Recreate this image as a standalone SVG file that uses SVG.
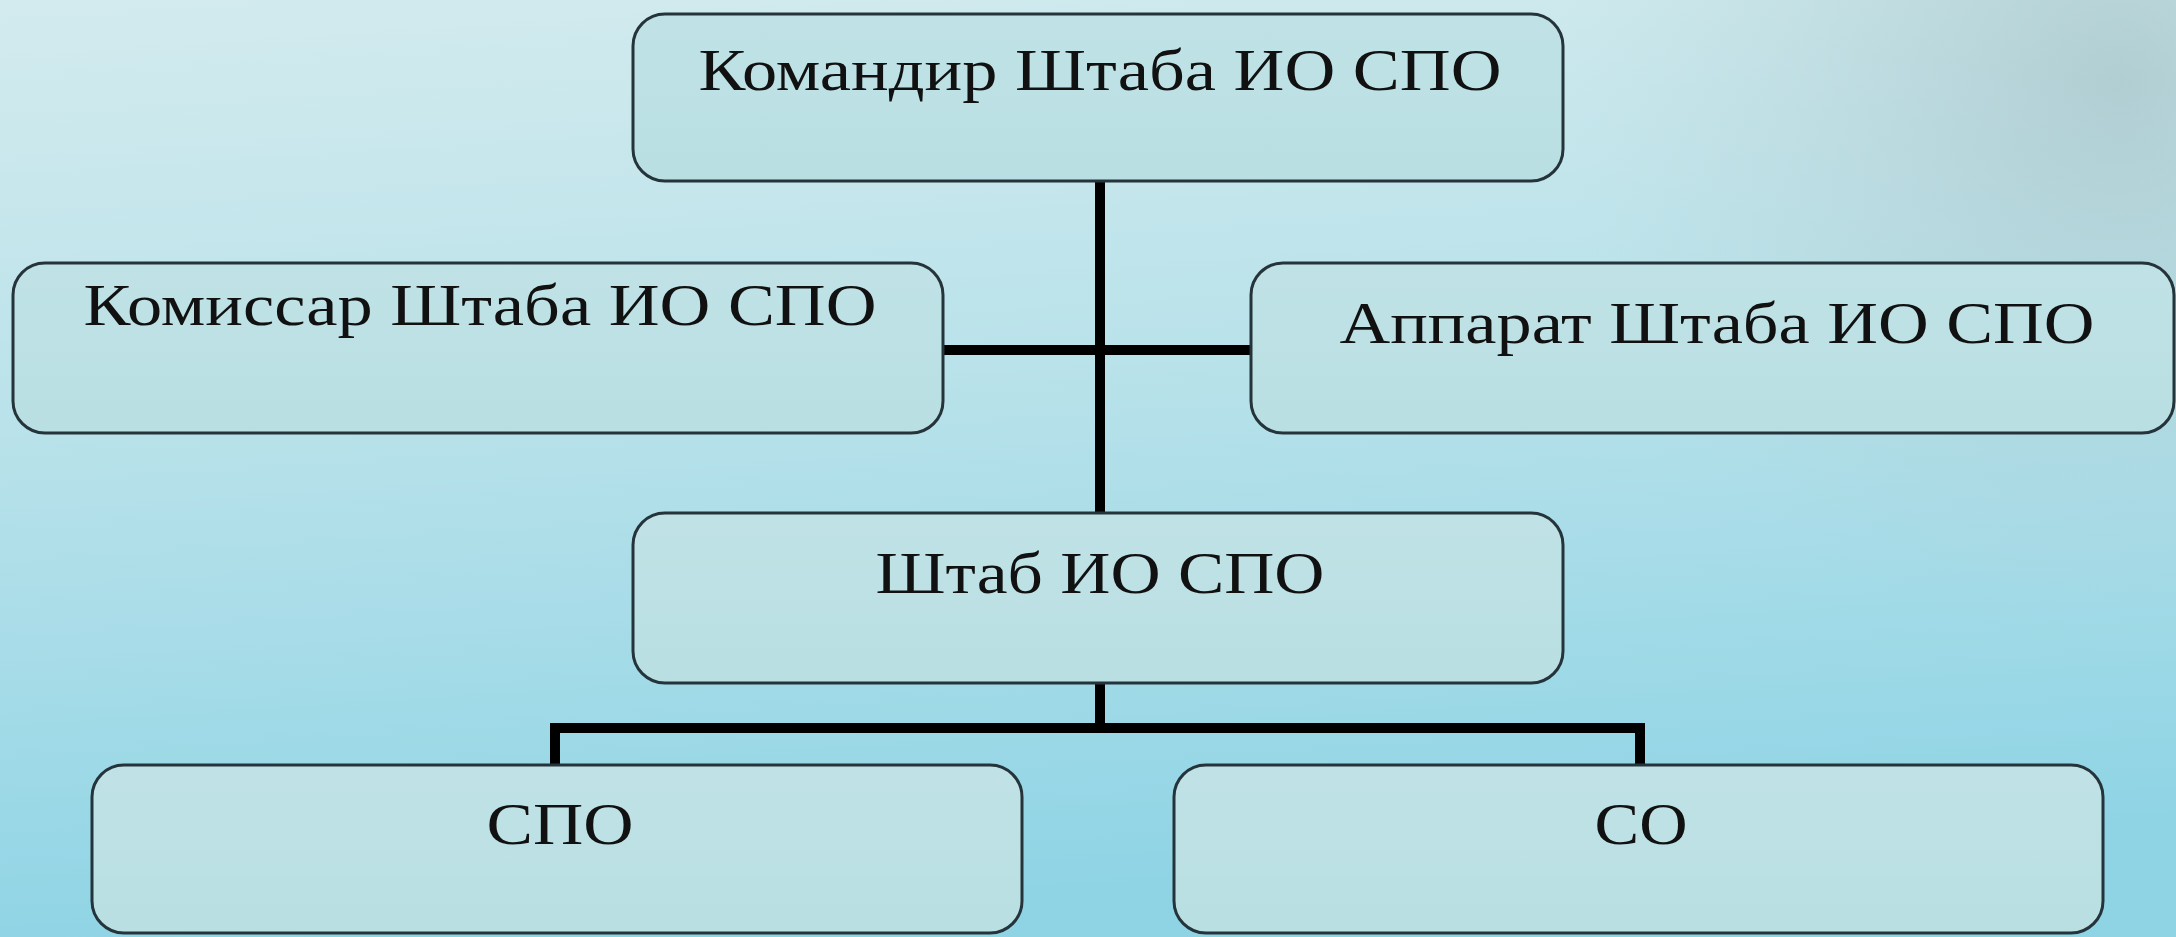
<svg xmlns="http://www.w3.org/2000/svg" width="2176" height="937" viewBox="0 0 2176 937">
<defs>
<linearGradient id="bg" x1="0" y1="0" x2="0.15" y2="1">
<stop offset="0" stop-color="#d3ebee"/>
<stop offset="0.45" stop-color="#b9e2ea"/>
<stop offset="1" stop-color="#8fd4e5"/>
</linearGradient>
<radialGradient id="shade" cx="2120" cy="80" r="560" gradientUnits="userSpaceOnUse">
<stop offset="0" stop-color="#a3bec2" stop-opacity="0.6"/>
<stop offset="1" stop-color="#b5cfd3" stop-opacity="0"/>
</radialGradient>
<linearGradient id="box" x1="0" y1="0" x2="0" y2="1">
<stop offset="0" stop-color="#c0e2e6"/>
<stop offset="1" stop-color="#b9dfe2"/>
</linearGradient>
</defs>
<style>
.node rect{fill:url(#box);stroke:#25343a;stroke-width:3}
.node text{font-family:"Liberation Serif","Times New Roman",serif;font-size:60px;fill:#111;text-anchor:middle}
.conn{stroke:#000;stroke-width:10;fill:none;stroke-linecap:butt}
</style>
<rect x="0" y="0" width="2176" height="937" fill="url(#bg)"/>
<rect x="0" y="0" width="2176" height="937" fill="url(#shade)"/>
<g id="connectors">
<path class="conn" d="M1100 180 V513"/>
<path class="conn" d="M943 350 H1251"/>
<path class="conn" d="M1100 683 V728"/>
<path class="conn" d="M555 765 V728 H1640 V765"/>
</g>
<g id="node-commander" class="node">
<rect x="633" y="14" width="930" height="167" rx="32"/>
<text x="1100" y="90" textLength="803" lengthAdjust="spacingAndGlyphs">Командир Штаба ИО СПО</text>
</g>
<g id="node-commissar" class="node">
<rect x="13" y="263" width="930" height="170" rx="32"/>
<text x="480" y="325" textLength="793" lengthAdjust="spacingAndGlyphs">Комиссар Штаба ИО СПО</text>
</g>
<g id="node-apparat" class="node">
<rect x="1251" y="263" width="923" height="170" rx="32"/>
<text x="1717" y="343" textLength="755" lengthAdjust="spacingAndGlyphs">Аппарат Штаба ИО СПО</text>
</g>
<g id="node-shtab" class="node">
<rect x="633" y="513" width="930" height="170" rx="32"/>
<text x="1100" y="593" textLength="449" lengthAdjust="spacingAndGlyphs">Штаб ИО СПО</text>
</g>
<g id="node-spo" class="node">
<rect x="92" y="765" width="930" height="168" rx="32"/>
<text x="560" y="844" textLength="147" lengthAdjust="spacingAndGlyphs">СПО</text>
</g>
<g id="node-so" class="node">
<rect x="1174" y="765" width="929" height="168" rx="32"/>
<text x="1641" y="844" textLength="93" lengthAdjust="spacingAndGlyphs">СО</text>
</g>
</svg>
